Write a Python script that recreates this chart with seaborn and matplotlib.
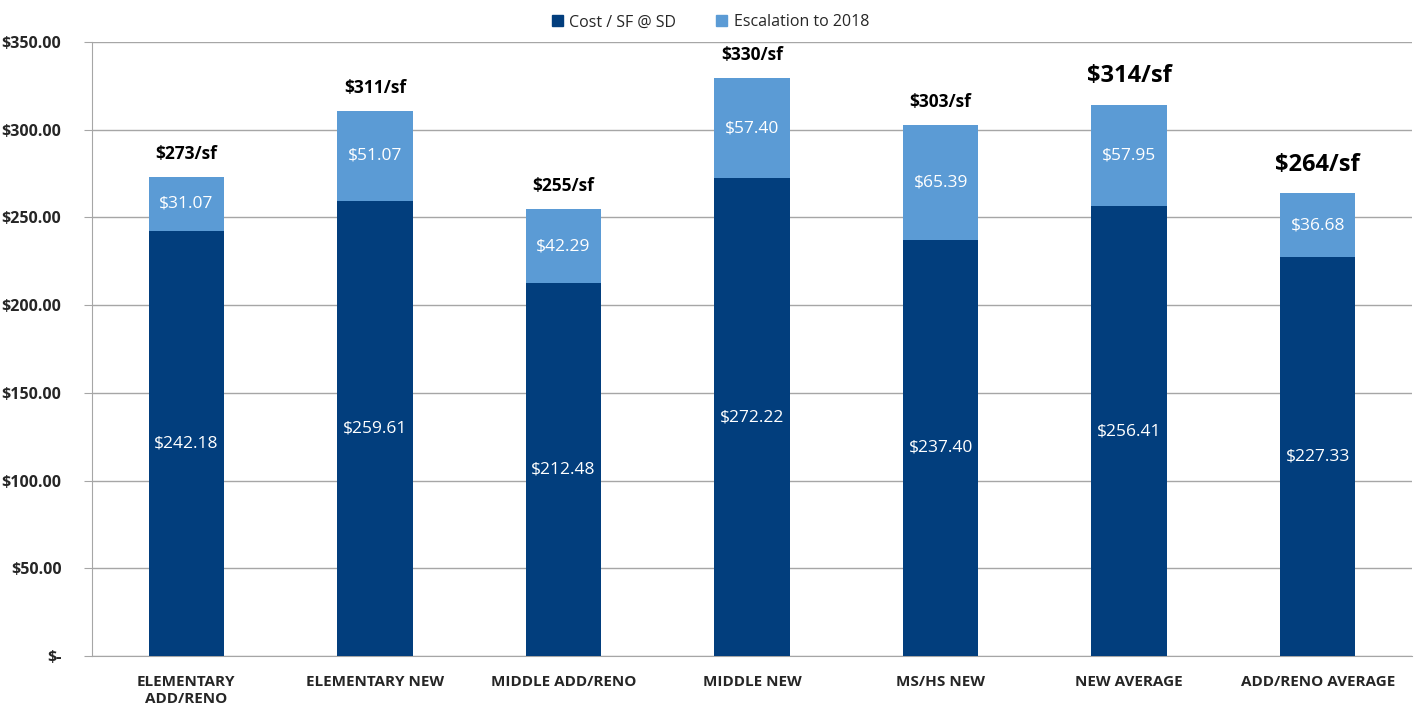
import pandas as pd
import numpy as np
import matplotlib.pyplot as plt
import seaborn as sns
from matplotlib.patches import Patch

# chart data
categories = ['ELEMENTARY\nADD/RENO', 'ELEMENTARY NEW', 'MIDDLE ADD/RENO', 'MIDDLE NEW',
              'MS/HS NEW', 'NEW AVERAGE', 'ADD/RENO AVERAGE']
cost_sd = [242.18, 259.61, 212.48, 272.22, 237.40, 256.41, 227.33]
escalation = [31.07, 51.07, 42.29, 57.40, 65.39, 57.95, 36.68]
total_labels = ['$273/sf', '$311/sf', '$255/sf', '$330/sf', '$303/sf', '$314/sf', '$264/sf']
big_label = [False, False, False, False, False, True, True]
y_ticks = [0, 50, 100, 150, 200, 250, 300, 350]
y_labels = ['$-', '$50.00', '$100.00', '$150.00', '$200.00', '$250.00', '$300.00', '$350.00']

dark = '#023E7D'
light = '#5B9BD5'

df = pd.DataFrame({'Category': categories, 'Cost': cost_sd, 'Esc': escalation})
df['Total'] = df['Cost'] + df['Esc']

sns.set_style('white')
plt.rcParams['font.family'] = ['Open Sans', 'DejaVu Sans']

fig = plt.figure(figsize=(14.21, 7.17), dpi=100)
ax = fig.add_axes([0.0647, 0.0851, 0.929, 0.8563])

sns.barplot(data=df, x='Category', y='Total', color=light, width=0.4,
            saturation=1, linewidth=0, ax=ax, zorder=3)
sns.barplot(data=df, x='Category', y='Cost', color=dark, width=0.4,
            saturation=1, linewidth=0, ax=ax, zorder=3)

for i, row in df.iterrows():
    ax.text(i, row['Cost'] / 2, f"${row['Cost']:.2f}", ha='center', va='center',
            color='white', fontsize=12.5, zorder=4)
    ax.text(i, row['Cost'] + row['Esc'] / 2, f"${row['Esc']:.2f}", ha='center',
            va='center', color='white', fontsize=12.5, zorder=4)
    if big_label[i]:
        ax.text(i, row['Total'] + 16, total_labels[i], ha='center', va='center',
                fontsize=17, fontweight='bold', color='black')
    else:
        ax.text(i, row['Total'] + 13, total_labels[i], ha='center', va='center',
                fontsize=12.5, fontweight='bold', color='black')

ax.set_ylim(0, 350)
ax.set_xlim(-0.5, len(categories) - 0.5)
ax.set_yticks(y_ticks)
ax.set_yticklabels(y_labels, fontsize=11.5, fontweight='bold')
ax.set_xticks(range(len(categories)))
ax.set_xticklabels(categories, fontsize=11, fontweight='bold')
ax.tick_params(axis='x', length=0, pad=14)
ax.set_xticks(np.arange(-0.5, len(categories)), minor=True)
ax.tick_params(axis='x', which='minor', length=6, color='#A6A6A6', direction='out')
ax.tick_params(axis='y', length=6, color='#A6A6A6', direction='out', pad=16, left=True)
ax.set_xlabel('')
ax.set_ylabel('')
ax.grid(axis='y', color='#A6A6A6', linewidth=1, zorder=0)
ax.set_axisbelow(True)
for s in ['top', 'right']:
    ax.spines[s].set_visible(False)
for s in ['left', 'bottom']:
    ax.spines[s].set_color('#A6A6A6')

handles = [Patch(color=dark, label='Cost / SF @ SD'), Patch(color=light, label='Escalation to 2018')]
fig.legend(handles=handles, loc='upper center', bbox_to_anchor=(0.5, 1.0), ncol=2,
           frameon=False, fontsize=11.5, handlelength=0.7, handleheight=0.7,
           handletextpad=0.4, columnspacing=2.5)

fig.savefig('out.png', dpi=100)
